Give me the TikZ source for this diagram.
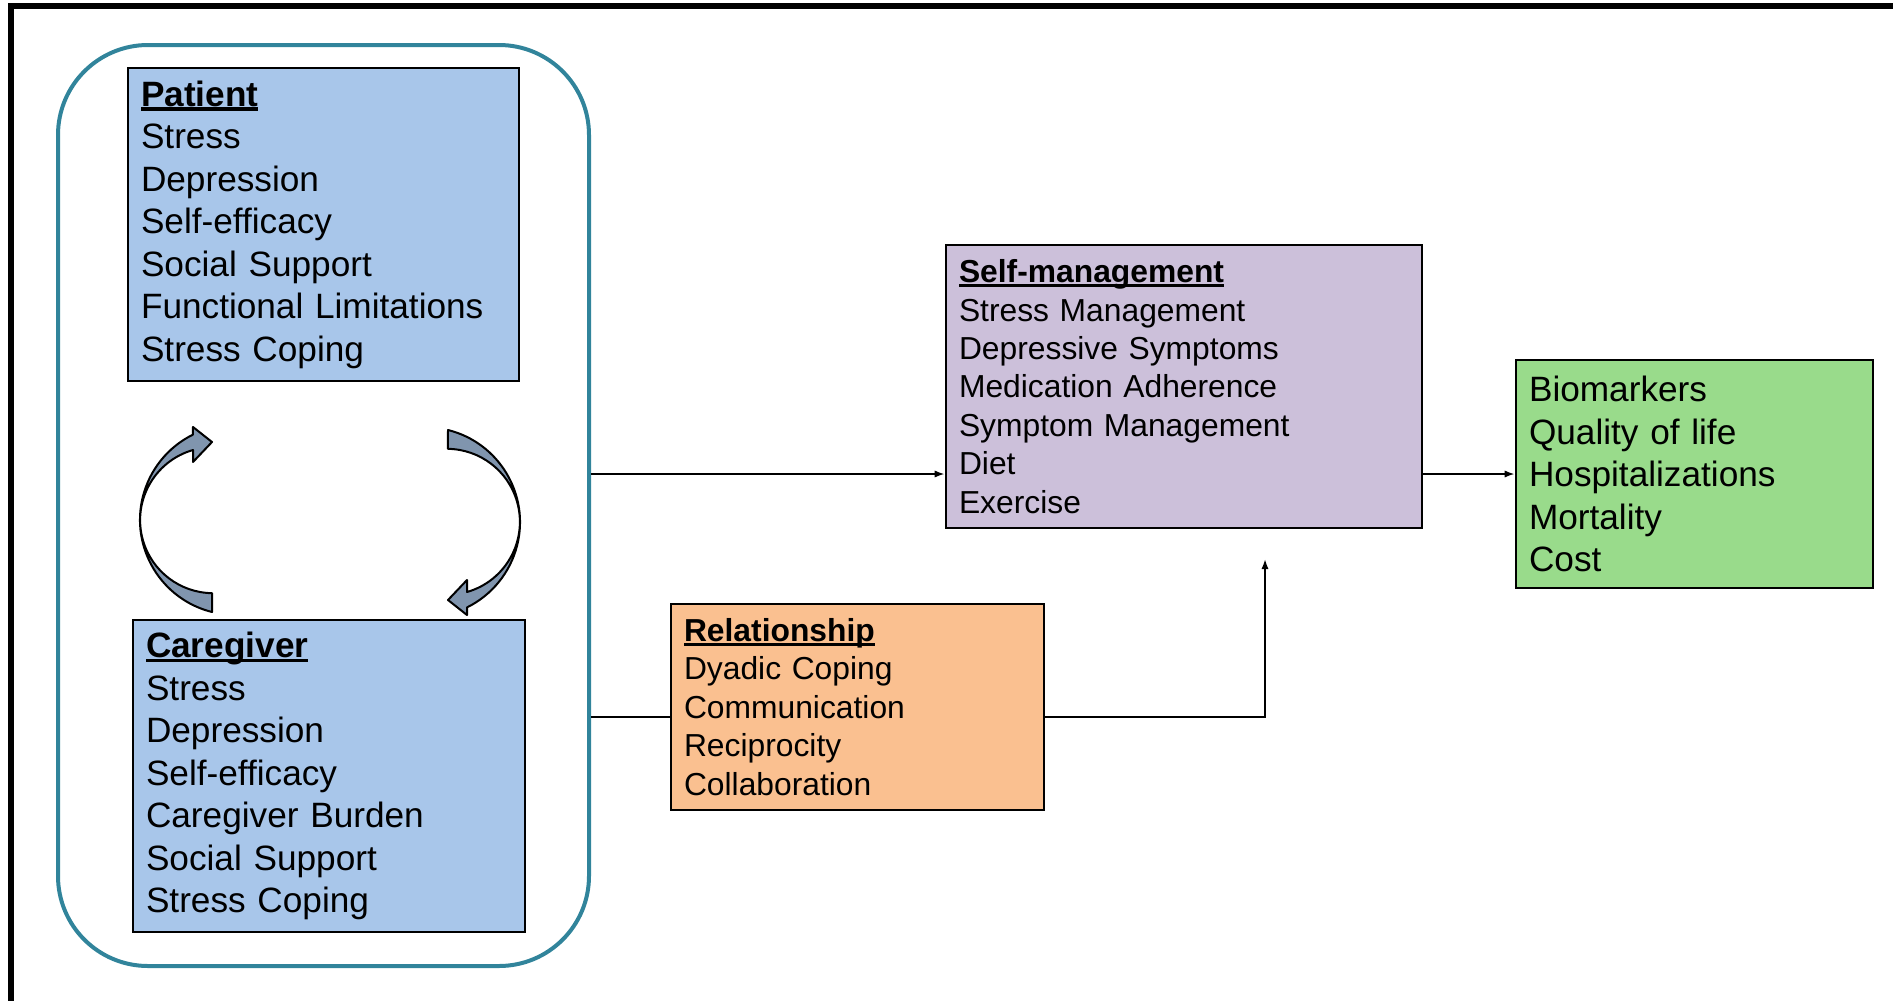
\documentclass[tikz,border=0pt]{standalone}
\usepackage{fontspec}
\setmainfont{Liberation Sans}
\usetikzlibrary{arrows.meta}
\definecolor{bluefill}{RGB}{168,198,234}
\definecolor{lavfill}{RGB}{204,192,218}
\definecolor{peachfill}{RGB}{250,192,144}
\definecolor{greenfill}{RGB}{153,219,139}
\definecolor{tealline}{RGB}{49,132,155}
\definecolor{arrowfill}{RGB}{128,149,174}
\newcommand{\myhead}[1]{\setbox0\hbox{\textbf{#1}}\rlap{\rule[-2.4pt]{\wd0}{1.8pt}}\box0}
\begin{document}
\begin{tikzpicture}[x=0.5pt,y=-0.5pt,
  box/.style={draw=black, line width=1.3pt, align=left, inner xsep=6.5pt, inner ysep=0pt, anchor=center},
  big/.style={font=\fontsize{17.6}{21.25}\selectfont},
  small/.style={font=\fontsize{15.9}{19.2}\selectfont},
  conn/.style={line width=0.9pt},
  arr/.style={conn, -{Latex[length=5pt,width=3.6pt]}},
  curv/.style={fill=arrowfill, draw=black, line width=1pt, line join=round}]
\useasboundingbox (0,0) rectangle (1893,1001);
% outer frame (top and left only)
\draw[line width=3pt] (1893,6) -- (11,6) -- (11,1001);
% group container
\node[draw=tealline, line width=2pt, rounded corners=45pt, minimum width=265.5pt, minimum height=460.5pt, inner sep=0pt] (grp) at (323.5,505.5) {};
% boxes
\node[box, big, fill=bluefill, minimum width=195.5pt, minimum height=156.5pt, text width=182.5pt] (pat) at (323.5,224.5)
  {\myhead{Patient}\\Stress\\Depression\\Self-efficacy\\Social Support\\Functional Limitations\\Stress Coping};
\node[box, big, fill=bluefill, minimum width=196pt, minimum height=156pt, text width=183pt] (cg) at (329,776)
  {\myhead{Caregiver}\\Stress\\Depression\\Self-efficacy\\Caregiver Burden\\Social Support\\Stress Coping};
\node[box, small, fill=lavfill, minimum width=238pt, minimum height=141.5pt, text width=225pt] (sm) at (1184,386.5)
  {\myhead{Self-management}\\Stress Management\\Depressive Symptoms\\Medication Adherence\\Symptom Management\\Diet\\Exercise};
\node[box, small, fill=peachfill, minimum width=186.5pt, minimum height=103pt, text width=173.5pt] (rel) at (857.5,707)
  {\myhead{Relationship}\\Dyadic Coping\\Communication\\Reciprocity\\Collaboration};
\node[box, big, fill=greenfill, minimum width=178.5pt, minimum height=114pt, text width=165.5pt] (out) at (1694.5,474)
  {Biomarkers\\Quality of life\\Hospitalizations\\Mortality\\Cost};
% curved arrows
\draw[curv] (212,612) arc[start angle=104, end angle=243.7, radius=95] -- (193,427) -- (212,442) -- (193,462) -- (193,450) arc[start angle=254, end angle=90.8, radius=73] -- cycle;
\begin{scope}[rotate around={180:(330,521)}]
\draw[curv] (212,612) arc[start angle=104, end angle=243.7, radius=95] -- (193,427) -- (212,442) -- (193,462) -- (193,450) arc[start angle=254, end angle=90.8, radius=73] -- cycle;
\end{scope}
% connectors
\coordinate (tipA) at (1265,559);
\coordinate (relL) at ([yshift=-5pt]rel.west);
\coordinate (relR) at ([yshift=-5pt]rel.east);
\draw[arr] (grp.east |- out.west) -- (sm.west |- out.west);
\draw[conn] (grp.east |- relL) -- (relL);
\draw[arr] (relR) -| (tipA);
\draw[arr] (sm.east |- out.west) -- (out.west);
\end{tikzpicture}
\end{document}
